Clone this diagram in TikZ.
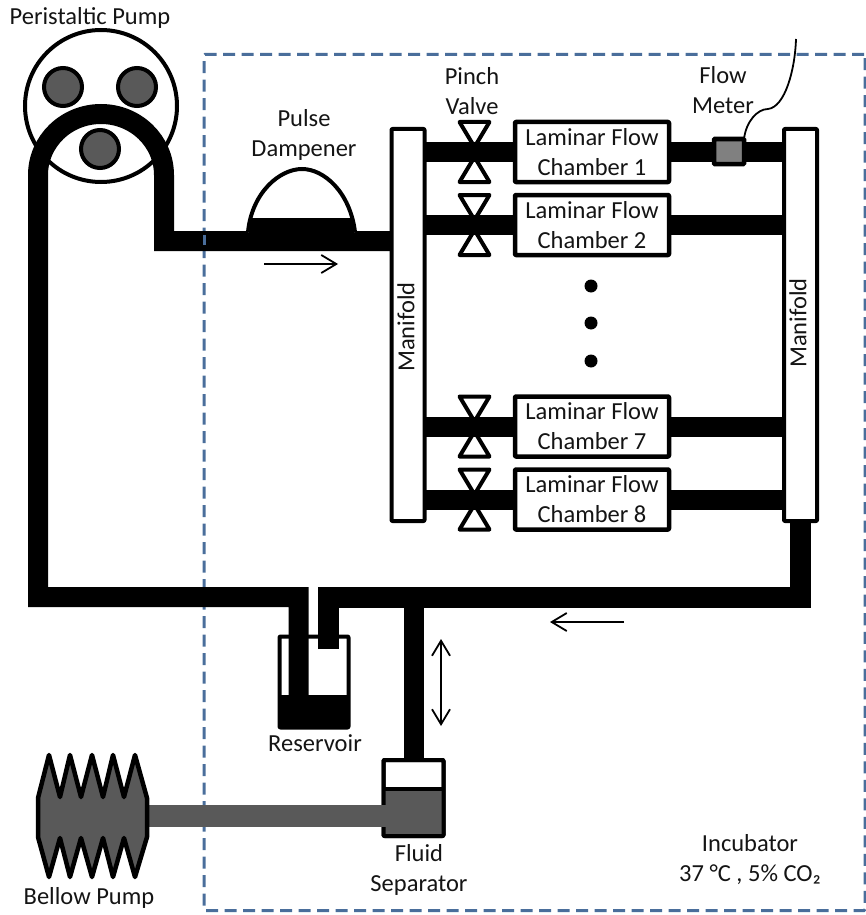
\documentclass[tikz,border=0pt]{standalone}
\usepackage{fontspec}
\setmainfont{Carlito}
\usetikzlibrary{arrows.meta,calc}
\definecolor{boxblue}{HTML}{4A6E9B}
\definecolor{darkfill}{HTML}{595959}
\definecolor{meterfill}{HTML}{808080}
\tikzset{
  x=1pt,y=-1pt,
  lab/.style={font=\fontsize{24.5}{30}\selectfont,align=center,inner sep=0pt,text=black!92},
  part/.style={draw=black,line width=4pt,fill=white,inner sep=0pt,outer sep=0pt,rounded corners=0.8pt,line join=round},
  chamber/.style={part,minimum width=154pt,minimum height=60pt,lab,line width=4.5pt},
  manifold/.style={part,minimum width=33pt,minimum height=392pt},
  roller/.style={circle,draw=black,line width=4pt,fill=darkfill,minimum size=38pt,inner sep=0pt,outer sep=0pt},
  pipe/.style={line width=20pt,draw=black,line cap=butt,line join=miter},
  valvetri/.style={draw=black,line width=4pt,fill=white,line join=round},
  flow/.style={draw=black,line width=1.8pt,-{Straight Barb[length=15pt,width=18pt,line width=1.8pt]}},
  flowboth/.style={draw=black,line width=1.8pt,{Straight Barb[length=15pt,width=18pt,line width=1.8pt]}-{Straight Barb[length=15pt,width=18pt,line width=1.8pt]}},
  bdash/.style={draw=boxblue,line width=3pt,dash pattern=on 12pt off 6.5pt}
}
\newcommand{\valve}[1]{%
  \draw[valvetri] ($(#1)+(-15,-30)$) -- ($(#1)+(15,-30)$) -- ($(#1)+(0,-5)$) -- cycle;
  \draw[valvetri] ($(#1)+(-15,30)$) -- ($(#1)+(15,30)$) -- ($(#1)+(0,5)$) -- cycle;
}
\begin{document}
\begin{tikzpicture}
\useasboundingbox (0,0) rectangle (866,915);
% incubator
\node[inner sep=0pt,outer sep=0pt,minimum width=661pt,minimum height=856pt,rounded corners=1pt,bdash] (incubator) at (534.5,482.5) {};

% pump
\node[circle,draw=black,line width=4pt,fill=white,minimum size=152pt,inner sep=0pt,outer sep=0pt] (pump) at (101,106) {};
\node[roller] (r1) at (63,87) {};
\node[roller] (r2) at (137,87) {};
\node[roller] (r3) at (100,149) {};

% nodes
\node[manifold] (manL) at (408,325) {};
\node[manifold] (manR) at (800.5,325) {};
\node[rotate=90,lab] at (406,327) {Manifold};
\node[rotate=90,lab] at (798,323) {Manifold};
\coordinate (pipeA) at (38,597);
\coordinate (pipeB) at (164,241);
\coordinate (resL) at (298.5,695);
\coordinate (resR) at (328,649);
\coordinate (retR) at (manR.south);

% pipes
\draw[pipe] (resL) -- (298.5,597) -- (pipeA) -- (38,175)
  arc[start angle=180,end angle=360,x radius=63,y radius=61] -- (pipeB) -- (manL.west |- pipeB);
\draw[pipe,line width=21pt] (resR) -- (328,597) -- (800.5,597) -- (retR);
\draw[pipe] (413.5,597) -- (413.5,760);
% the dashed box shows through the pipe here
\draw[boxblue,line width=3pt] (incubator.west |- 0,235) -- (incubator.west |- 0,245);

% dampener
\draw[draw=black,line width=4pt,fill=white] (248,232) .. controls (252,192) and (280,169) .. (302,169) .. controls (324,169) and (350,192) .. (355,232);
\fill[black] (249,218) rectangle (354,251);
\draw[flow] (264,264) -- (338,264);

% rows
\node[chamber] (c1) at (592,152) {Laminar Flow\\Chamber 1};
\node[chamber] (c2) at (592,225) {Laminar Flow\\Chamber 2};
\node[chamber] (c7) at (592,426.5) {Laminar Flow\\Chamber 7};
\node[chamber] (c8) at (592,499.5) {Laminar Flow\\Chamber 8};
\foreach \c in {c1,c2,c7,c8}{
  \valve{474.5,0 |- \c}
  \draw[pipe] (manL.east |- \c) -- (\c.west);
  \draw[pipe] (\c.east) -- (manR.west |- \c);
}

% flow meter
\node[draw=black,line width=4.5pt,fill=meterfill,minimum width=30pt,minimum height=25pt,inner sep=0pt,outer sep=0pt,rounded corners=0.8pt] (meter) at (729,151.5) {};
\coordinate (wireEnd) at (796,39);
\draw[black,line width=1.8pt] (meter.north east) .. controls (746,122) and (757,109) .. (768,109) .. controls (785,107) and (795,70) .. (wireEnd);

% dots
\foreach \y/\n in {286/d1,323/d2,361/d3}
  \node[circle,fill=black,minimum size=13pt,inner sep=0pt] (\n) at (591,\y) {};

% lower flow arrows
\draw[flow] (624,622) -- (550,622);
\draw[flowboth] (441,639) -- (441,726);

% reservoir
\node[part,fill=none,minimum width=69pt,minimum height=91pt] (res) at (314,682) {};
\fill[black] (res.west |- 0,695) rectangle (res.south east);

% separator
\node[part,minimum width=60pt,minimum height=76pt] (sep) at (413.5,798) {};
\fill[darkfill] (sep.west |- 0,789) rectangle (sep.south east);
\node[part,fill=none,minimum width=60pt,minimum height=76pt] at (sep) {};
\draw[black,line width=4pt] (sep.west |- 0,789) -- (sep.east |- 0,789);

% bellows
\node[inner sep=0pt,outer sep=0pt,minimum width=109pt,minimum height=122pt] (bellow) at (92.5,816) {};
\draw[darkfill,line width=22pt] (bellow.east) -- ($(sep.west)+(8,18)$);
\draw[draw=black,line width=4.5pt,fill=darkfill,line join=round]
  (38,798) -- (49,755) -- (60,797) -- (70,755) -- (81,797) -- (92,755) -- (103,797) -- (113,755) -- (124,797) -- (135,755) -- (147,798)
  -- (147,837) -- (135,877) -- (124,838) -- (113,877) -- (103,838) -- (92,877) -- (81,838) -- (70,877) -- (60,838) -- (49,877) -- (38,837) -- cycle;

% labels
\node[lab] (lp) at (90,18) {Peristaltic Pump};
\node[lab] (ld) at (304,135) {Pulse\\Dampener};
\node[lab] (lv) at (472,91) {Pinch\\Valve};
\node[lab] (lm) at (723,90) {Flow\\Meter};
\node[lab] (lr) at (315,743) {Reservoir};
\node[lab] (lf) at (419,870) {Fluid\\Separator};
\node[lab] (lb) at (89,898) {Bellow Pump};
\node[lab] (li) at (750,860) {Incubator\\37 °C , 5\% CO₂};
\end{tikzpicture}
\end{document}
